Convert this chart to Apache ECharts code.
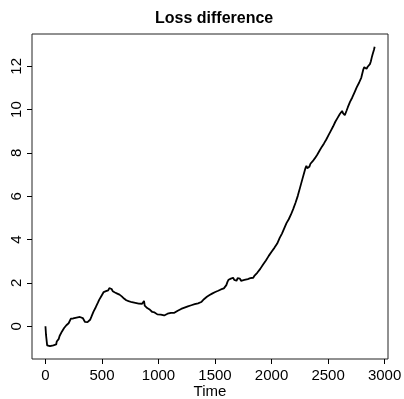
<!DOCTYPE html>
<html>
<head>
<meta charset="utf-8">
<script src="https://cdn.jsdelivr.net/npm/echarts@6/dist/echarts.min.js"></script>
<style>
  html, body { margin: 0; padding: 0; background: #fff; }
  #chart { width: 404px; height: 399px; }
</style>
</head>
<body>
<div id="chart"></div>
<script>
// Cumulative loss difference over time
const times = [
  0, 5, 15, 25, 40, 55, 70, 85, 95, 100, 108, 118, 125, 135, 145, 155, 165, 175, 185, 195,
  205, 215, 225, 235, 245, 255, 265, 275, 285, 295, 305, 315, 322, 330, 340, 350, 360, 372, 385, 395,
  405, 415, 425, 435, 445, 455, 465, 475, 485, 495, 505, 515, 525, 535, 545, 555, 565, 575, 585, 595,
  605, 615, 625, 635, 645, 655, 665, 675, 685, 695, 705, 715, 725, 735, 750, 765, 780, 795, 810, 825,
  840, 855, 865, 872, 878, 890, 900, 912, 925, 935, 945, 955, 965, 975, 990, 1005, 1020, 1035, 1050, 1065,
  1080, 1095, 1110, 1125, 1140, 1155, 1170, 1185, 1200, 1215, 1230, 1245, 1260, 1275, 1290, 1305, 1320, 1335, 1350, 1365,
  1378, 1390, 1402, 1415, 1428, 1440, 1452, 1465, 1478, 1490, 1502, 1515, 1528, 1540, 1552, 1565, 1578, 1590, 1600, 1610,
  1620, 1630, 1640, 1650, 1660, 1670, 1680, 1690, 1700, 1710, 1720, 1730, 1745, 1760, 1775, 1790, 1800, 1812, 1825, 1838,
  1850, 1862, 1875, 1888, 1900, 1912, 1925, 1938, 1950, 1962, 1975, 1988, 2000, 2012, 2025, 2038, 2050, 2062, 2072, 2082,
  2092, 2102, 2112, 2122, 2132, 2142, 2152, 2162, 2172, 2182, 2192, 2202, 2212, 2222, 2232, 2242, 2252, 2262, 2272, 2282,
  2292, 2300, 2308, 2316, 2324, 2334, 2344, 2354, 2364, 2374, 2384, 2394, 2404, 2414, 2424, 2434, 2444, 2454, 2464, 2474,
  2484, 2494, 2504, 2514, 2524, 2534, 2544, 2554, 2564, 2574, 2584, 2594, 2604, 2614, 2624, 2632, 2640, 2648, 2656, 2664,
  2674, 2684, 2694, 2704, 2714, 2724, 2734, 2744, 2754, 2764, 2774, 2784, 2794, 2804, 2812, 2820, 2830, 2840, 2850, 2860,
  2870, 2878, 2886, 2894, 2900, 2906, 2912
];
const lossDiff = [
  0.00, -0.40, -0.88, -0.95, -0.92, -0.90, -0.88, -0.86, -0.84, -0.70, -0.62, -0.58, -0.45, -0.40, -0.25, -0.20, -0.08, -0.02, 0.05, 0.10,
  0.14, 0.22, 0.35, 0.38, 0.36, 0.42, 0.39, 0.44, 0.41, 0.45, 0.43, 0.50, 0.44, 0.38, 0.30, 0.20, 0.22, 0.19, 0.25, 0.30,
  0.42, 0.55, 0.68, 0.75, 0.88, 0.95, 1.10, 1.22, 1.30, 1.40, 1.46, 1.58, 1.65, 1.62, 1.70, 1.66, 1.76, 1.68, 1.72, 1.62,
  1.66, 1.56, 1.60, 1.51, 1.55, 1.46, 1.45, 1.38, 1.36, 1.28, 1.33, 1.20, 1.25, 1.16, 1.17, 1.11, 1.15, 1.08, 1.12, 1.05,
  1.10, 1.04, 1.12, 1.17, 0.95, 0.90, 0.84, 0.80, 0.76, 0.70, 0.66, 0.60, 0.64, 0.56, 0.55, 0.50, 0.54, 0.47, 0.50, 0.55,
  0.58, 0.55, 0.62, 0.66, 0.62, 0.70, 0.72, 0.70, 0.80, 0.76, 0.86, 0.82, 0.92, 0.88, 0.97, 0.93, 1.02, 0.98, 1.06, 1.02,
  1.12, 1.20, 1.25, 1.32, 1.36, 1.42, 1.44, 1.50, 1.52, 1.56, 1.58, 1.62, 1.64, 1.68, 1.70, 1.72, 1.75, 1.82, 1.90, 2.05,
  2.15, 2.10, 2.20, 2.16, 2.24, 2.14, 2.20, 2.10, 2.22, 2.16, 2.20, 2.10, 2.08, 2.14, 2.05, 2.18, 2.26, 2.22, 2.30, 2.24,
  2.34, 2.40, 2.48, 2.45, 2.65, 2.62, 2.85, 2.82, 3.04, 3.00, 3.25, 3.20, 3.44, 3.40, 3.62, 3.58, 3.82, 3.78, 4.08, 4.04,
  4.28, 4.24, 4.52, 4.48, 4.76, 4.72, 4.94, 4.90, 5.16, 5.12, 5.42, 5.38, 5.70, 5.66, 6.02, 5.98, 6.40, 6.36, 6.78, 6.74,
  7.16, 7.30, 7.40, 7.30, 7.38, 7.36, 7.50, 7.46, 7.62, 7.58, 7.76, 7.72, 7.92, 7.88, 8.10, 8.06, 8.28, 8.24, 8.44, 8.40,
  8.62, 8.58, 8.82, 8.78, 9.02, 8.98, 9.22, 9.18, 9.44, 9.40, 9.62, 9.58, 9.80, 9.76, 9.94, 9.84, 9.90, 9.74, 9.70, 9.96,
  10.10, 10.06, 10.36, 10.32, 10.56, 10.52, 10.80, 10.76, 11.04, 11.00, 11.24, 11.20, 11.48, 11.44, 11.86, 11.96, 11.90, 11.88, 11.98, 12.02,
  12.10, 12.22, 12.40, 12.56, 12.50, 12.76, 12.90
];
const xTicks = [0, 500, 1000, 1500, 2000, 2500, 3000];
const yTicks = [0, 2, 4, 6, 8, 10, 12];

const font = 'Liberation Sans, Arial, Helvetica, sans-serif';
const chart = echarts.init(document.getElementById('chart'), null, { renderer: 'canvas' });

chart.setOption({
  animation: false,
  backgroundColor: '#ffffff',
  title: {
    text: 'Loss difference',
    left: 150,
    top: 6,
    textStyle: { fontFamily: font, fontSize: 16, fontWeight: 'bold', color: '#000' }
  },
  grid: {
    left: 32, right: 16, top: 34, bottom: 40,
    outerBoundsMode: 'none',
    containLabel: false,
    show: true, borderColor: '#222', borderWidth: 1, backgroundColor: 'transparent'
  },
  xAxis: {
    type: 'value',
    min: -119, max: 3030,
    name: 'Time',
    nameLocation: 'middle',
    nameGap: 25,
    nameMoveOverlap: false,
    nameTextStyle: { fontFamily: font, fontSize: 15, color: '#000', verticalAlign: 'top' },
    axisLine: { show: false, onZero: false },
    splitLine: { show: false },
    axisTick: { show: true, inside: false, length: 5, customValues: xTicks, lineStyle: { color: '#000', width: 1 } },
    axisLabel: {
      customValues: xTicks, margin: 9, fontFamily: font, fontSize: 15, color: '#000',
      formatter: v => String(v)
    }
  },
  yAxis: {
    type: 'value',
    min: -1.51, max: 13.49,
    axisLine: { show: false, onZero: false },
    splitLine: { show: false },
    axisTick: { show: true, inside: false, length: 5, customValues: yTicks, lineStyle: { color: '#000', width: 1 } },
    axisLabel: {
      customValues: yTicks, rotate: 90, margin: 8, fontFamily: font, fontSize: 15, color: '#000',
      formatter: v => String(v)
    }
  },
  series: [{
    type: 'line',
    data: times.map((t, i) => [t, lossDiff[i]]),
    showSymbol: false,
    lineStyle: { color: '#000', width: 1.8 },
    silent: true
  }]
});
</script>
</body>
</html>
